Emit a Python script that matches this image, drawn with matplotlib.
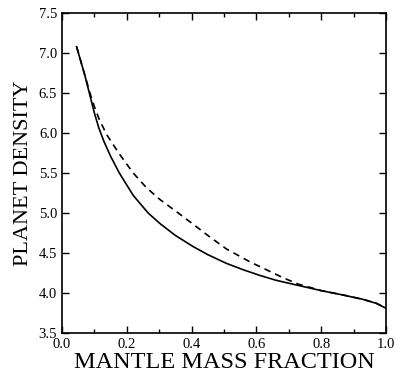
import numpy as np
import matplotlib.pyplot as plt
from matplotlib.ticker import MultipleLocator

# mantle mass fraction vs planet density, two models
x_solid = [0.045, 0.07, 0.09, 0.10, 0.114, 0.13, 0.15, 0.177, 0.22, 0.266,
           0.302, 0.35, 0.405, 0.45, 0.508, 0.56, 0.611, 0.66, 0.724, 0.80,
           0.868, 0.93, 0.971, 1.0]
y_solid = [7.08, 6.73, 6.41, 6.25, 6.06, 5.89, 5.71, 5.50, 5.22, 5.00,
           4.87, 4.72, 4.58, 4.48, 4.37, 4.29, 4.22, 4.16, 4.10, 4.03,
           3.975, 3.92, 3.87, 3.81]

x_dash = [0.045, 0.07, 0.09, 0.10, 0.115, 0.138, 0.175, 0.22, 0.26, 0.302,
          0.359, 0.405, 0.45, 0.508, 0.58, 0.611, 0.683, 0.73, 0.775, 0.80,
          0.868, 0.93, 0.971, 1.0]
y_dash = [7.08, 6.73, 6.45, 6.33, 6.17, 5.98, 5.75, 5.50, 5.32, 5.17,
          5.00, 4.86, 4.72, 4.55, 4.39, 4.33, 4.19, 4.11, 4.06, 4.03,
          3.975, 3.92, 3.87, 3.81]

plt.rcParams['font.family'] = ['Liberation Serif', 'DejaVu Serif']

fig = plt.figure(figsize=(3.95, 3.75), dpi=100)
ax = fig.add_axes([0.157, 0.112, 0.82, 0.853])

ax.plot(x_solid, y_solid, color='black', lw=1.2)
ax.plot(x_dash, y_dash, color='black', lw=1.2, linestyle=(0, (4, 3)))

ax.set_xlim(0.0, 1.0)
ax.set_ylim(3.5, 7.5)
ax.xaxis.set_major_locator(MultipleLocator(0.2))
ax.xaxis.set_minor_locator(MultipleLocator(0.1))
ax.yaxis.set_major_locator(MultipleLocator(0.5))
ax.xaxis.set_major_formatter(plt.FormatStrFormatter('%.1f'))
ax.yaxis.set_major_formatter(plt.FormatStrFormatter('%.1f'))
ax.tick_params(which='both', direction='in', top=True, right=True,
               labelsize=10.5, width=1)
ax.tick_params(which='major', length=5)
ax.tick_params(which='minor', length=3)
for s in ax.spines.values():
    s.set_linewidth(1.2)

ax.set_xlabel('MANTLE MASS FRACTION', fontsize=17.5, labelpad=1)
ax.set_ylabel('PLANET DENSITY', fontsize=16, labelpad=4)

fig.savefig('out.png', dpi=100)
